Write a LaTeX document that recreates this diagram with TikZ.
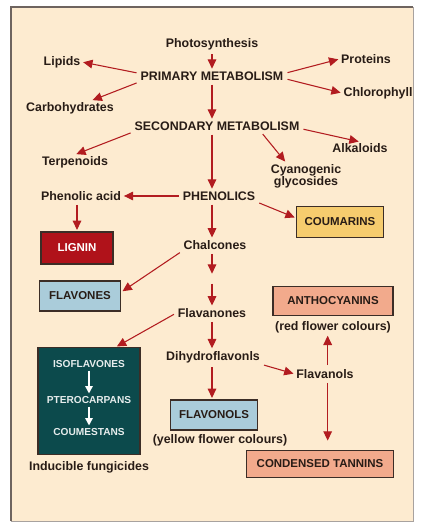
\documentclass[tikz,border=0pt]{standalone}
\usepackage{fontspec}
\setmainfont{Liberation Sans}
\usetikzlibrary{arrows.meta}
\definecolor{panel}{RGB}{253,235,208}
\definecolor{frame}{RGB}{110,100,95}
\definecolor{arrred}{RGB}{178,28,32}
\definecolor{ink}{RGB}{40,28,22}
\definecolor{boxline}{RGB}{60,45,38}
\definecolor{coum}{RGB}{246,204,110}
\definecolor{lign}{RGB}{176,18,26}
\definecolor{blu}{RGB}{170,204,218}
\definecolor{salm}{RGB}{242,170,140}
\definecolor{teal}{RGB}{12,74,76}
\tikzset{
	lbl/.style={font=\fontsize{9.3}{10.5}\selectfont\bfseries,text=ink,inner sep=1pt},
	colbox/.style={draw=boxline,line width=1.1pt,font=\fontsize{8.6}{10}\selectfont\bfseries,text=ink,inner sep=1pt},
	arr/.style={draw=arrred,line width=0.8pt,-{Triangle[length=7pt,width=6.5pt]},shorten <=2pt,shorten >=1pt},
	warr/.style={draw=white,line width=1.1pt,-{Triangle[length=5.5pt,width=5.5pt]},shorten <=1pt,shorten >=1pt},
	wlbl/.style={font=\fontsize{7.6}{9}\selectfont\bfseries,text=white!90!teal,inner sep=1pt}
}
\begin{document}
\begin{tikzpicture}[x=0.75pt,y=-0.75pt]
		\useasboundingbox (0,0) rectangle (422,523);
		\path[fill=panel,draw=frame!60,line width=0.6pt] (11,7) rectangle (413,521);
		\draw[frame,line width=1.4pt] (11,521)--(11,7)--(413,7);
		\node[lbl] (photo) at (212,44) {Photosynthesis};
		\node[lbl] (prim) at (212,76) {PRIMARY METABOLISM};
		\node[lbl] (lip) at (62,62) {Lipids};
		\node[lbl] (prot) at (366,59) {Proteins};
		\node[lbl] (chl) at (378,93) {Chlorophyll};
		\node[lbl] (carb) at (70,108) {Carbohydrates};
		\node[lbl] (sec) at (217,126) {SECONDARY METABOLISM};
		\node[lbl] (alk) at (360,148) {Alkaloids};
		\node[lbl] (terp) at (75,162) {Terpenoids};
		\node[lbl,align=center,font=\fontsize{9.3}{9}\selectfont\bfseries] (cyan) at (306,176) {Cyanogenic\\glycosides};
		\node[lbl] (phac) at (81,196) {Phenolic acid};
		\node[lbl] (phen) at (219,196) {PHENOLICS};
		\node[colbox,fill=coum,minimum width=65pt,minimum height=23pt] (coum) at (340,222) {COUMARINS};
		\node[colbox,fill=lign,text=white,minimum width=54pt,minimum height=24pt] (lig) at (77,248) {LIGNIN};
		\node[lbl] (chal) at (215,245) {Chalcones};
		\node[colbox,fill=blu,minimum width=61pt,minimum height=22.5pt] (flav) at (80,296) {FLAVONES};
		\node[lbl] (flava) at (212,313) {Flavanones};
		\node[colbox,fill=salm,minimum width=90pt,minimum height=22pt] (anth) at (333,301) {ANTHOCYANINS};
		\node[lbl] (red) at (333,327) {(red flower colours)};
		\node[draw=boxline,line width=0.8pt,fill=teal,minimum width=76.5pt,minimum height=80pt] (iso) at (89,401) {};
		\node[wlbl] (iso1) at (89,364) {ISOFLAVONES};
		\node[wlbl] (iso2) at (89,400) {PTEROCARPANS};
		\node[wlbl] (iso3) at (89,432) {COUMESTANS};
		\node[lbl] (fung) at (89,467) {Inducible fungicides};
		\node[lbl] (dih) at (213,357) {Dihydroflavonls};
		\node[lbl] (flvl) at (325,374) {Flavanols};
		\node[colbox,fill=blu,minimum width=65pt,minimum height=22.5pt] (fnol) at (214,415) {FLAVONOLS};
		\node[lbl] (yel) at (220,440) {(yellow flower colours)};
		\node[colbox,fill=salm,minimum width=110pt,minimum height=20pt] (tan) at (320,464) {CONDENSED TANNINS};
		\coordinate (m1) at (212,275);
		\coordinate (m2) at (212,281);
		\draw[arr] (photo) -- (prim);
		\draw[arr] ([yshift=2pt]prim.west) -- (lip.east);
		\draw[arr] ([yshift=2pt]prim.east) -- (prot.west);
		\draw[arr] ([yshift=-2pt]prim.east) -- (chl.west);
		\draw[arr] (prim.south west) -- ([xshift=16pt]carb.north);
		\draw[arr] (prim.south) -- (prim |- sec.north);
		\draw[arr] (sec.south west) -- (terp.north);
		\draw[arr] ([yshift=-2pt]sec.east) -- (alk.north);
		\draw[arr] ([xshift=33pt]sec.south) -- ([xshift=-15pt]cyan.north);
		\draw[arr] (sec.south -| prim) -- (prim |- phen.north);
		\draw[arr] (phen.west) -- (phac.east);
		\draw[arr] (phac.south -| lig) -- (lig.north);
		\draw[arr] (phen.south east) -- ([yshift=3pt]coum.west);
		\draw[arr] (phen.south -| prim) -- (prim |- chal.north);
		\draw[arr] (chal.south west) -- ([yshift=3pt]flav.east);
		\draw[arr] (chal.south -| prim) -- (m1);
		\draw[arr] (m2) -- (prim |- flava.north);
		\draw[arr] (flava.west) -- ([xshift=20pt]iso.north);
		\draw[arr] (flava.south -| prim) -- (prim |- dih.north);
		\draw[arr] (dih.south east) -- (flvl.west);
		\draw[arr] (dih.south -| prim) -- (prim |- fnol.north);
		\draw[arr] ([xshift=2pt]flvl.north) -- ([xshift=2pt]flvl.north |- red.south);
		\draw[arr,shorten >=7pt] ([xshift=2pt]flvl.south) -- ([xshift=2pt]flvl.south |- tan.north);
		\draw[warr] (iso1) -- (iso2);
		\draw[warr] (iso2) -- (iso3);
\end{tikzpicture}
\end{document}
